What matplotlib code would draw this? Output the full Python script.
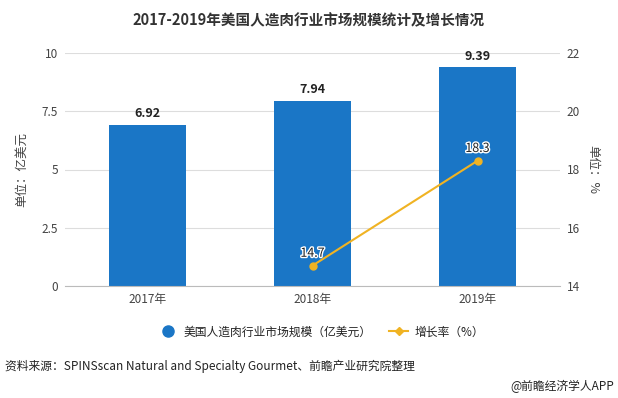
import matplotlib.pyplot as plt
import matplotlib.patheffects as pe
from matplotlib.lines import Line2D

plt.rcParams['font.family'] = ['Noto Sans CJK SC', 'DejaVu Sans']

# data
years = ['2017年', '2018年', '2019年']
market_size = [6.92, 7.94, 9.39]
growth_years = [1, 2]
growth_rate = [14.7, 18.3]

bar_color = '#1A76C6'
line_color = '#F0B323'
text_color = '#444444'

fig = plt.figure(figsize=(6.18, 3.98), dpi=100)
ax = fig.add_axes([65 / 618, 1 - 286 / 398, 495 / 618, 233 / 398])

x = range(len(years))
bars = ax.bar(x, market_size, width=0.47, color=bar_color, zorder=2)
ax.set_xlim(-0.5, 2.5)
ax.set_ylim(0, 10)
ax.set_yticks([0, 2.5, 5, 7.5, 10])
ax.set_yticklabels(['0', '2.5', '5', '7.5', '10'])
ax.set_xticks(list(x))
ax.set_xticklabels(years)
ax.grid(axis='y', color='#DDDDDD', linewidth=0.8, zorder=0)
for s in ['top', 'right', 'left']:
    ax.spines[s].set_visible(False)
ax.spines['bottom'].set_color('#BBBBBB')
ax.tick_params(axis='both', length=0, labelsize=8.5, colors=text_color, pad=5)
ax.set_ylabel('单位：亿美元', fontsize=9, color=text_color, labelpad=10)

for i, v in enumerate(market_size):
    ax.text(i, v + 0.2, f'{v:.2f}', ha='center', va='bottom', fontsize=9,
            fontweight='bold', color='#222222')

ax2 = ax.twinx()
ax2.set_ylim(14, 22)
ax2.set_yticks([14, 16, 18, 20, 22])
ax2.plot(growth_years, growth_rate, color=line_color, linewidth=1.5,
         marker='o', markersize=5, zorder=3)
for s in ['top', 'right', 'left', 'bottom']:
    ax2.spines[s].set_visible(False)
ax2.tick_params(axis='both', length=0, labelsize=8.5, colors=text_color, pad=5)
ax2.set_ylabel('单位：%', fontsize=9, color=text_color, rotation=-90, labelpad=14)
for xi, v in zip(growth_years, growth_rate):
    ax2.text(xi, v + 0.2, f'{v}', ha='center', va='bottom', fontsize=9,
             color='#222222',
             path_effects=[pe.withStroke(linewidth=2, foreground='white')])

fig.text(0.5, 1 - 20 / 398, '2017-2019年美国人造肉行业市场规模统计及增长情况',
         ha='center', va='center', fontsize=10.5, fontweight='bold', color='#333333')

handles = [
    Line2D([], [], marker='o', linestyle='none', color=bar_color, markersize=8),
    Line2D([], [], marker='D', color=line_color, markersize=4, linewidth=1.5),
]
fig.legend(handles, ['美国人造肉行业市场规模（亿美元）', '增长率（%）'],
           loc='center', bbox_to_anchor=(0.52, 1 - 332 / 398), ncol=2,
           frameon=False, fontsize=8.5, handlelength=1.6, columnspacing=1.5,
           handletextpad=0.5, labelcolor='#222222')

fig.text(5 / 618, 1 - 366 / 398,
         '资料来源：SPINSscan Natural and Specialty Gourmet、前瞻产业研究院整理',
         ha='left', va='center', fontsize=8.5, color='#222222')
fig.text(614 / 618, 1 - 386 / 398, '@前瞻经济学人APP',
         ha='right', va='center', fontsize=8.5, color='#222222')

fig.savefig('out.png', dpi=100, facecolor='white')
